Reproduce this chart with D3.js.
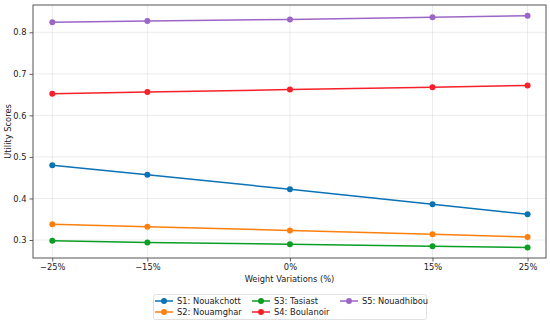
<!DOCTYPE html>
<html>
<head>
<meta charset="utf-8">
<script src="https://cdn.jsdelivr.net/npm/d3@7"></script>
<style>
  body { margin: 0; background: #fff; }
  svg { display: block; font-family: "DejaVu Sans", sans-serif; }
</style>
</head>
<body>
<svg id="chart" width="550" height="324"></svg>
<script>
//  data
const weights = [-25, -15, 0, 15, 25];
const tick_labels = ["\u221225%", "\u221215%", "0%", "15%", "25%"];
const names = ["S1: Nouakchott", "S2: Nouamghar", "S3: Tasiast", "S4: Boulanoir", "S5: Nouadhibou"];
const s1 = [0.480, 0.457, 0.422, 0.386, 0.362];
const s2 = [0.338, 0.332, 0.323, 0.314, 0.307];
const s3 = [0.298, 0.294, 0.290, 0.285, 0.282];
const s4 = [0.652, 0.656, 0.662, 0.668, 0.672];
const s5 = [0.824, 0.827, 0.831, 0.836, 0.840];
const y_ticks = [0.3, 0.4, 0.5, 0.6, 0.7, 0.8];
const colors = ["#0a72b5", "#ff7f0e", "#0a9e25", "#f5202a", "#9c66c6"];

//  draw
function draw_chart() {
  const margin = ({top: 5, right: 4, bottom: 66, left: 33});
  const svg = d3.select("#chart");
  const w = 550, h = 324;

  const series = [s1, s2, s3, s4, s5].map((v, i) => ({name: names[i], color: colors[i], values: v}));

  const x = d3.scaleLinear().domain([-27.03, 26.94]).range([margin.left, w - margin.right]);
  const y = d3.scaleLinear().domain([0.2567, 0.8657]).range([h - margin.bottom, margin.top]);

  // grid
  svg.append("g").selectAll("line").data(weights).join("line")
    .attr("x1", d => x(d)).attr("x2", d => x(d))
    .attr("y1", margin.top).attr("y2", h - margin.bottom)
    .attr("stroke", "#b0b0b0").attr("stroke-opacity", 0.3).attr("stroke-width", 0.8);
  svg.append("g").selectAll("line").data(y_ticks).join("line")
    .attr("x1", margin.left).attr("x2", w - margin.right)
    .attr("y1", d => y(d)).attr("y2", d => y(d))
    .attr("stroke", "#b0b0b0").attr("stroke-opacity", 0.3).attr("stroke-width", 0.8);

  const xAxis = g => g
    .attr("transform", `translate(0,${h - margin.bottom})`)
    .call(d3.axisBottom(x).tickValues(weights).tickFormat((d, i) => tick_labels[i]).tickSizeOuter(0).tickSize(3.5).tickPadding(3));
  const yAxis = g => g
    .attr("transform", `translate(${margin.left},0)`)
    .call(d3.axisLeft(y).tickValues(y_ticks).tickFormat(d3.format(".1f")).tickSizeOuter(0).tickSize(3.5).tickPadding(3));

  svg.append("g").call(xAxis);
  svg.append("g").call(yAxis);
  svg.selectAll(".domain").remove();
  svg.selectAll(".tick line").attr("stroke", "#333").attr("stroke-width", 0.8);
  svg.selectAll(".tick text").attr("fill", "#222").attr("font-size", 8.3).attr("font-family", "DejaVu Sans");

  // frame
  svg.append("rect")
    .attr("x", margin.left).attr("y", margin.top)
    .attr("width", w - margin.right - margin.left).attr("height", h - margin.bottom - margin.top)
    .attr("fill", "none").attr("stroke", "#555").attr("stroke-width", 1);

  // lines
  const line = d3.line().x((d, i) => x(weights[i])).y(d => y(d));
  series.forEach(s => {
    svg.append("path").datum(s.values)
      .attr("fill", "none").attr("stroke", s.color).attr("stroke-width", 1.5)
      .attr("d", line);
    svg.append("g").selectAll("circle").data(s.values).join("circle")
      .attr("cx", (d, i) => x(weights[i])).attr("cy", d => y(d)).attr("r", 3)
      .attr("fill", s.color);
  });

  // labels
  svg.append("text").attr("x", (margin.left + w - margin.right) / 2).attr("y", 282)
    .attr("text-anchor", "middle").attr("font-size", 8.3).attr("fill", "#222")
    .text("Weight Variations (%)");
  svg.append("text").attr("transform", `translate(11,${(margin.top + h - margin.bottom) / 2}) rotate(-90)`)
    .attr("text-anchor", "middle").attr("font-size", 8.3).attr("fill", "#222")
    .text("Utility Scores");

  // legend
  const lg = svg.append("g");
  lg.append("rect").attr("x", 153.5).attr("y", 294.5).attr("width", 273).attr("height", 25)
    .attr("rx", 2).attr("fill", "#fff").attr("stroke", "#d8d8d8").attr("stroke-width", 0.8);
  const colX = [155, 252, 340];
  const rowY = [301, 312];
  series.forEach((s, i) => {
    const cx = colX[Math.floor(i / 2)], cy = rowY[i % 2];
    lg.append("line").attr("x1", cx).attr("x2", cx + 18).attr("y1", cy).attr("y2", cy)
      .attr("stroke", s.color).attr("stroke-width", 1.5);
    lg.append("circle").attr("cx", cx + 9).attr("cy", cy).attr("r", 3).attr("fill", s.color);
    lg.append("text").attr("x", cx + 22).attr("y", cy).attr("dy", "0.35em")
      .attr("font-size", 8.3).attr("fill", "#222").text(s.name);
  });
}

draw_chart();
</script>
</body>
</html>
